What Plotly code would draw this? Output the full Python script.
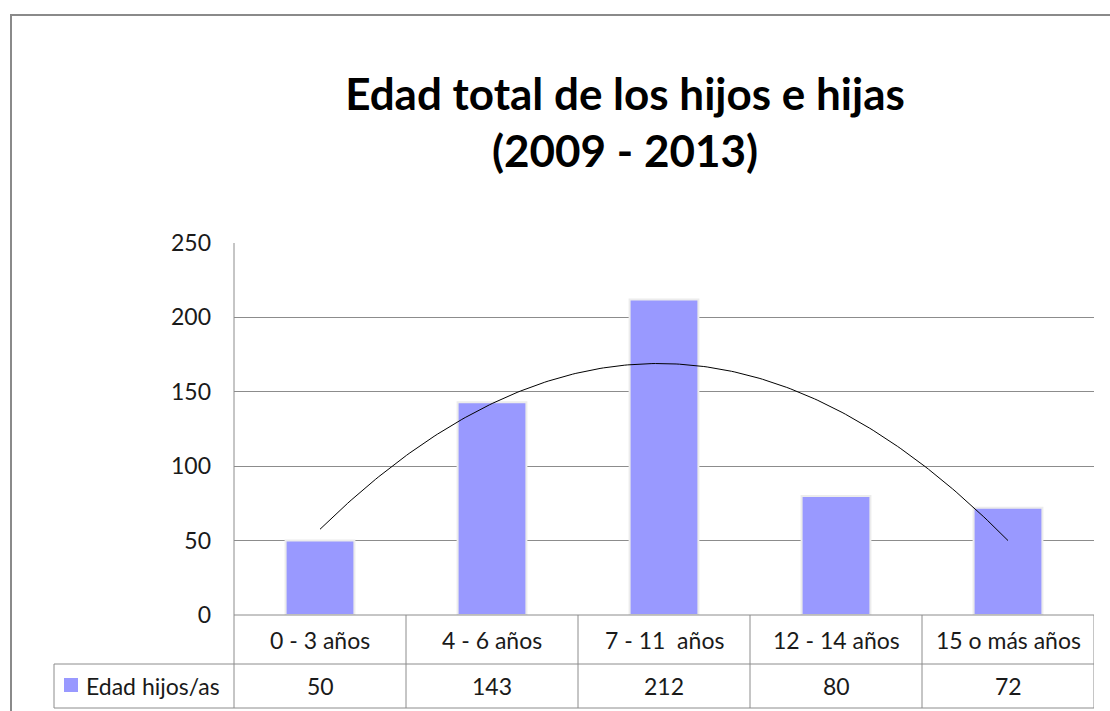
import numpy as np
import plotly.graph_objects as go

# Data
categorias = ["0 - 3 años", "4 - 6 años", "7 - 11  años", "12 - 14 años", "15 o más años"]
valores = [50, 143, 212, 80, 72]
serie = "Edad hijos/as"
y_ticks = [0, 50, 100, 150, 200, 250]

W, H = 1110, 711
L, R, T, B = 234, 16, 243, 96
PW, PH = W - L - R, H - T - B

BAR = "#9999FF"
GRID = "#8c8c8c"
FONT = "Lato"


def py(p):
    """pixel row -> paper y"""
    return (H - B - p) / PH


def px(p):
    """pixel column -> paper x"""
    return (p - L) / PW


xs = np.arange(len(categorias))

# Polynomial (order 2) trend line fitted to the series
coef = np.polyfit(xs, valores, 2)
xt = np.linspace(xs[0], xs[-1], 200)
yt = np.polyval(coef, xt)

fig = go.Figure()
fig.add_trace(go.Bar(
    x=xs, y=valores, width=0.4,
    marker=dict(color=BAR, line=dict(color="#ececec", width=2)),
    hoverinfo="skip", showlegend=False,
))
fig.add_trace(go.Scatter(
    x=xt, y=yt, mode="lines",
    line=dict(color="black", width=1),
    hoverinfo="skip", showlegend=False,
))

shapes = []
line = dict(color=GRID, width=1)
row1_bot = py(664)
row2_bot = py(708)

# chart frame
shapes.append(dict(type="rect", xref="paper", yref="paper",
                   x0=px(11), x1=px(1130), y0=py(730), y1=py(15),
                   line=dict(color="#8a8a8a", width=2), layer="below"))
# left axis line down through the table
shapes.append(dict(type="line", xref="paper", yref="paper",
                   x0=0, x1=0, y0=row2_bot, y1=1, line=line))
# table horizontal rules
for yy in (0, row1_bot, row2_bot):
    x_start = 0 if yy == 0 else px(54)
    shapes.append(dict(type="line", xref="paper", yref="paper",
                       x0=x_start, x1=1, y0=yy, y1=yy, line=line))
# legend cell left edge
shapes.append(dict(type="line", xref="paper", yref="paper",
                   x0=px(54), x1=px(54), y0=row2_bot, y1=row1_bot, line=line))
# column separators
for i in range(1, len(categorias) + 1):
    shapes.append(dict(type="line", xref="x", yref="paper",
                       x0=i - 0.5, x1=i - 0.5, y0=row2_bot, y1=0, line=line))
# legend key
shapes.append(dict(type="rect", xref="paper", yref="paper",
                   x0=px(64), x1=px(78), y0=py(692), y1=py(678),
                   fillcolor=BAR, line=dict(width=0)))

ann = []
txt = dict(family=FONT, size=23, color="#1a1a1a")
for i, (c, v) in enumerate(zip(categorias, valores)):
    ann.append(dict(x=i, y=(0 + row1_bot) / 2, xref="x", yref="paper",
                    yanchor="middle", text=c, showarrow=False, font=txt))
    ann.append(dict(x=i, y=(row1_bot + row2_bot) / 2, xref="x", yref="paper",
                    yanchor="middle", text=str(v), showarrow=False, font=txt))
ann.append(dict(x=px(84), y=(row1_bot + row2_bot) / 2, xref="paper", yref="paper",
                text=serie, showarrow=False, xanchor="left", yanchor="middle", font=txt))

fig.update_layout(
    width=W, height=H,
    margin=dict(l=L, r=R, t=T, b=B),
    paper_bgcolor="white", plot_bgcolor="white",
    title=dict(text="<b>Edad total de los hijos e hijas<br>(2009 - 2013)</b>",
               x=625 / W, xanchor="center", y=1 - 110 / H, yanchor="middle",
               font=dict(family=FONT, size=44, color="black")),
    xaxis=dict(range=[-0.5, len(categorias) - 0.5], showticklabels=False,
               showgrid=False, zeroline=False, fixedrange=True),
    yaxis=dict(range=[0, 250], tickvals=y_ticks, showgrid=True, gridcolor=GRID,
               gridwidth=1, zeroline=False, ticks="", ticklabelstandoff=22,
               tickfont=dict(family=FONT, size=23, color="#1a1a1a")),
    shapes=shapes, annotations=ann, bargap=0.6,
)

fig.write_html("out.html")
